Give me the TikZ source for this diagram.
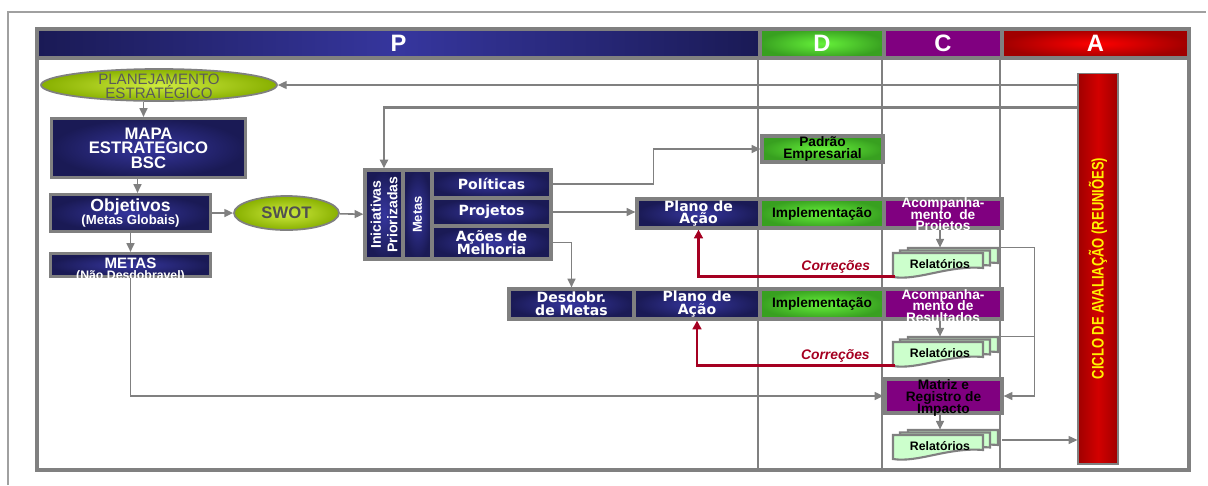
\documentclass[tikz,border=0pt]{standalone}
\usepackage{fontspec}
\setmainfont{Liberation Sans}
\newfontfamily\verd{DejaVu Sans}
\usetikzlibrary{shapes,arrows.meta}

\definecolor{navyD}{HTML}{1A1A55}
\definecolor{navyL}{HTML}{36369E}
\definecolor{grnD}{HTML}{38A020}
\definecolor{grnL}{HTML}{66F23A}
\definecolor{purp}{HTML}{800080}
\definecolor{redD}{HTML}{A00000}
\definecolor{redM}{HTML}{D20000}
\definecolor{redL}{HTML}{FF0000}
\definecolor{limeD}{HTML}{88B000}
\definecolor{limeL}{HTML}{CFEB40}
\definecolor{relfill}{HTML}{CCFFCC}
\definecolor{corr}{HTML}{A50021}
\definecolor{bgray}{HTML}{808080}
\definecolor{fgray}{HTML}{A0A0A0}
\definecolor{plantext}{HTML}{5A5A5A}
\definecolor{swottext}{HTML}{505050}

\tikzstyle{hdr} = [draw=bgray, line width=2.3pt, minimum height=0.58cm, inner sep=0pt,
  text=white, font=\bfseries\fontsize{13.5}{14}\selectfont]
\tikzstyle{navybox} = [draw=bgray, line width=1.8pt, inner color=navyL, outer color=navyD,
  text=white, align=center, inner sep=0pt,
  font=\verd\bfseries\fontsize{8}{7.2}\selectfont]
\tikzstyle{leftbox} = [navybox, font=\bfseries\fontsize{9.5}{8.3}\selectfont]
\tikzstyle{dbox} = [draw=bgray, line width=1.8pt, inner color=grnL, outer color=grnD,
  text=black, align=center, inner sep=0pt,
  font=\bfseries\fontsize{7.8}{7.1}\selectfont]
\tikzstyle{cbox} = [draw=bgray, line width=1.8pt, fill=purp, inner sep=0pt]
\tikzstyle{ctext} = [text=white, align=center, inner sep=0pt, yshift=-0.04cm,
  font=\bfseries\fontsize{7.8}{6.7}\selectfont]
\tikzstyle{oval} = [ellipse, draw=bgray, line width=1pt, inner color=limeL, outer color=limeD,
  align=center, inner sep=0pt]
\tikzstyle{abar} = [draw=bgray, line width=0.6pt, left color=redD, right color=redD, middle color=redM,
  inner sep=0pt, text=yellow, font=\bfseries\fontsize{9.5}{9.5}\selectfont]
\tikzstyle{conn} = [draw=bgray, line width=0.9pt, -{Triangle[length=5pt,width=4.5pt]}]
\tikzstyle{link} = [draw=bgray, line width=0.7pt]
\tikzstyle{redarrow} = [draw=corr, line width=1.4pt, -{Triangle[length=5pt,width=5pt]}]
\tikzstyle{corrtext} = [text=corr, font=\bfseries\itshape\fontsize{7.9}{8}\selectfont, inner sep=1pt]
\tikzstyle{relbox} = [draw=bgray, line width=1.2pt, fill=relfill]
\tikzstyle{reltext} = [inner sep=0pt, minimum width=1.8cm, minimum height=0.48cm,
  font=\bfseries\fontsize{7}{7}\selectfont]
\tikzstyle{sep} = [draw=bgray, line width=0.6pt]

% stacked report sheets: name, x, y
\newcommand{\relstack}[3]{%
  \foreach \dx/\dy in {15/5,7/2.5,0/0}
    \draw[relbox] (#2+\dx-45,#3-\dy-11) -- ++(90,0) -- ++(0,15)
      .. controls +(-35,-3) and +(25,4) .. ++(-90,9) -- cycle;
  \path (#2+2,#3) node[reltext] (#1) {Relatórios};
}
\newcommand{\upword}[1]{\rotatebox{90}{\makebox[44pt]{#1}}}

\begin{document}
\lineskiplimit=-20pt
\begin{tikzpicture}[x=0.02cm,y=-0.02cm]
\useasboundingbox (0,0) rectangle (1208,485);

\draw[fgray, line width=0.6pt] (8,485) -- (8,12) -- (1206,12);
\draw[bgray, line width=2.3pt] (37,29) rectangle (1189,470);
\coordinate (fbot) at (37,470);

% header
\path (398.5,43.5) node[hdr, minimum width=14.46cm, left color=navyD, right color=navyD, middle color=navyL] (hP) {P};
\path (822,43.5) node[hdr, minimum width=2.48cm, inner color=grnL, outer color=grnD] (hD) {D};
\path (943,43.5) node[hdr, minimum width=2.36cm, fill=purp] (hC) {C};
\path (1095.5,43.5) node[hdr, minimum width=3.74cm, inner color=redL, outer color=redD] (hA) {A};

\draw[sep] (hD.south west) -- (hD.south west |- fbot);
\draw[sep] (hC.south west) -- (hC.south west |- fbot);
\draw[sep] (hA.south west) -- (hA.south west |- fbot);

\path (1098,268.5) node[abar, minimum width=0.8cm, minimum height=7.82cm] (abar)
  {\rotatebox{90}{\scalebox{0.78}[1]{CICLO DE AVALIAÇÃO (REUNIÕES)}}};

% P column, left
\begin{scope}
\path (159,85) node[oval, minimum width=4.72cm, minimum height=0.64cm,
  label={[text=plantext, align=center, yshift=-0.02cm, font=\fontsize{8.6}{8}\selectfont]center:PLANEJAMENTO\\ESTRATÉGICO}] (plan) {};
\path (148.5,148) node[leftbox, minimum width=3.88cm, minimum height=1.18cm] (mapa) {MAPA\\ESTRATEGICO\\BSC};
\path (130.5,213) node[navybox, minimum width=3.2cm, minimum height=0.74cm,
  font=\bfseries\fontsize{7.5}{7.6}\selectfont] (objetivos)
  {{\fontsize{10}{8}\selectfont Objetivos}\\(Metas Globais)};
\path (130.5,265) node[navybox, minimum width=3.2cm, minimum height=0.46cm,
  label={[ctext, yshift=-0.06cm, font=\bfseries\fontsize{7}{6.8}\selectfont]center:{\fontsize{8.6}{6.8}\selectfont METAS}\\(Não Desdobravel)}] (metas) {};
\path (286.5,213) node[oval, minimum width=2.1cm, minimum height=0.68cm,
  text=swottext, font=\bfseries\fontsize{9.5}{10}\selectfont] (swot) {SWOT};
\end{scope}

% P column, middle
\begin{scope}
\path (384,214.5) node[navybox, minimum width=0.76cm, minimum height=1.78cm,
  font=\bfseries\fontsize{8}{10}\selectfont] (inic)
  {\upword{Iniciativas}\hspace{3.5pt}\upword{Priorizadas}};
\path (417.5,214.5) node[navybox, minimum width=0.58cm, minimum height=1.78cm,
  font=\bfseries\fontsize{7.4}{8}\selectfont] (metasv) {\rotatebox{90}{Metas}};
\path (491.5,184) node[navybox, minimum width=2.38cm, minimum height=0.56cm] (pol) {Políticas};
\path (491.5,212) node[navybox, minimum width=2.38cm, minimum height=0.56cm] (proj) {Projetos};
\path (491.5,242.5) node[navybox, minimum width=2.38cm, minimum height=0.66cm] (acoes) {Ações de\\Melhoria};
\end{scope}

% rows
\path (822.5,149) node[dbox, minimum width=2.42cm, minimum height=0.52cm] (padrao) {Padrão\\Empresarial};

\path (698.5,213.5) node[navybox, minimum width=2.46cm, minimum height=0.58cm] (plano1) {Plano de\\Ação};
\path (822,213.5) node[dbox, minimum width=2.48cm, minimum height=0.58cm] (impl1) {Implementação};
\path (943,213.5) node[cbox, minimum width=2.36cm, minimum height=0.58cm,
  label={[ctext]center:Acompanha-\\mento\ \ de\\Projetos}] (acompP) {};

\path (571.5,304) node[navybox, minimum width=2.5cm, minimum height=0.6cm] (desd) {Desdobr.\\de Metas};
\path (697,304) node[navybox, minimum width=2.52cm, minimum height=0.6cm] (plano2) {Plano de\\Ação};
\path (822,304) node[dbox, minimum width=2.48cm, minimum height=0.6cm] (impl2) {Implementação};
\path (943,304) node[cbox, minimum width=2.36cm, minimum height=0.6cm,
  label={[ctext]center:Acompanha-\\mento de\\Resultados}] (acompR) {};

\path (943.5,396) node[cbox, minimum width=2.34cm, minimum height=0.68cm,
  label={[ctext, text=black]center:Matriz e\\Registro de\\Impacto}] (matriz) {};

\relstack{rel1}{938}{264}
\relstack{rel2}{938}{353}
\relstack{rel3}{938}{446}

% connectors
\coordinate (m1) at ([xshift=-0.1cm]mapa.north);
\coordinate (o1) at ([xshift=0.14cm]objetivos.north);
\draw[conn] (m1 |- plan.south) -- (m1);
\draw[conn] (o1 |- mapa.south) -- (o1);
\draw[conn] (objetivos) -- (metas);
\draw[conn] (objetivos) -- (swot);
\draw[conn] (swot) -- (inic);
\draw[conn] (pol.east) -| ([xshift=-2.14cm]padrao.west) -- (padrao.west);
\draw[conn] (proj.east) -- (proj.east -| plano1.west);
\draw[conn] (acoes.east) -| (desd.north);

\draw[conn] (rel1.north |- acompP.south) -- ([yshift=0.08cm]rel1.north);
\draw[conn] (rel2.north |- acompR.south) -- ([yshift=0.08cm]rel2.north);
\draw[conn] (rel3.north |- matriz.south) -- ([yshift=0.08cm]rel3.north);

\draw[redarrow] (rel1.south west) -| (plano1.south) node[pos=0.15, above, corrtext] {Correções};
\draw[redarrow] (rel2.south west) -| (plano2.south) node[pos=0.15, above, corrtext] {Correções};

\coordinate (r1e) at ([xshift=0.3cm,yshift=0.08cm]rel1.north east);
\coordinate (r2e) at ([xshift=0.3cm,yshift=0.08cm]rel2.north east);
\coordinate (r3e) at ([xshift=0.34cm,yshift=0.12cm]rel3.east);
\coordinate (side) at ([xshift=0.62cm]matriz.east);
\draw[conn, line width=0.8pt] (r1e) -| (side) -- (matriz.east);
\draw[link] (r2e) -- (r2e -| side);
\draw[conn, line width=0.7pt] (r3e) -- (r3e -| abar.west);

\draw[conn] (metas.south) |- (matriz.west);
\draw[conn, line width=0.8pt] (abar.west |- plan.east) -- (plan.east);
\draw[conn, line width=1.3pt] ([yshift=-0.7cm]abar.north west) -| (inic.north);

\end{tikzpicture}
\end{document}
